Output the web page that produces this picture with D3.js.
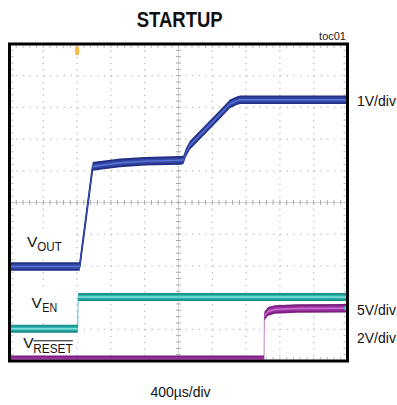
<!DOCTYPE html>
<html><head><meta charset="utf-8">
<script src="https://cdn.jsdelivr.net/npm/d3@7"></script>
<style>html,body{margin:0;padding:0;background:#fff;}svg{display:block;}</style>
</head><body>
<svg id="c" width="397" height="405"></svg>
<script>
// ---- data (time in µs, values in volts) ----
const timeDomain = [0, 4000];           // 10 div x 400 µs
const voutT = [0, 830, 985, 1071, 1308, 1600, 2018, 2057, 2089, 2136, 2491, 2609, 2689, 2730, 4000];
const voutV = [0, 0, 3.16, 3.19, 3.27, 3.32, 3.35, 3.36, 3.60, 3.83, 4.80, 5.13, 5.23, 5.26, 5.26];
const enT = [0, 808, 812, 4000];
const enV = [0, 0, 5.0, 5.0];
const resetT = [0, 3012, 3016, 3060, 3140, 3400, 4000];
const resetV = [0, 0, 2.75, 3.05, 3.17, 3.23, 3.25];
const channelNames = ["VOUT", "EN", "RESET"];
const voltsPerDiv = [1, 5, 2];
const groundDiv = [-2.02, -3.98, -4.96];
const scaleLabels = ["1V/div", "5V/div", "2V/div"];
const timeLabel = "400µs/div";
const titleText = "STARTUP";
const tocText = "toc01";

const svg = d3.select("#c");
const FONT = "'Liberation Sans', Arial, sans-serif";
const L = 9.5, R = 347.5, T = 44, B = 361;
const x = d3.scaleLinear().domain(timeDomain).range([L, R]);
const yDiv = d3.scaleLinear().domain([-5, 5]).range([B, T]);
const xDivs = d3.range(0, 11).map(i => timeDomain[0] + i * 400);
const yDivs = d3.range(-5, 6);

// ---- grid ----
const g = svg.append("g");
const dx = (x(400) - x(0)) / 5, dy = (yDiv(0) - yDiv(1)) / 5;
xDivs.slice(1, -1).forEach(t => {
  if (t === 2000) return;
  g.append("line").attr("x1", x(t)).attr("x2", x(t)).attr("y1", T).attr("y2", B)
    .attr("stroke", "#bdbdbd").attr("stroke-width", 1.3)
    .attr("stroke-dasharray", `1.3,${(dy - 1.3).toFixed(2)}`);
});
yDivs.slice(1, -1).forEach(d => {
  if (d === 0) return;
  g.append("line").attr("x1", L).attr("x2", R).attr("y1", yDiv(d)).attr("y2", yDiv(d))
    .attr("stroke", "#bdbdbd").attr("stroke-width", 1.3)
    .attr("stroke-dasharray", `1.3,${(dx - 1.3).toFixed(2)}`);
});
// center axes with minor ticks
const cx = x(2000), cy = yDiv(0);
g.append("line").attr("x1", cx).attr("x2", cx).attr("y1", T).attr("y2", B)
  .attr("stroke", "#d4d4d4").attr("stroke-width", 1);
g.append("line").attr("x1", L).attr("x2", R).attr("y1", cy).attr("y2", cy)
  .attr("stroke", "#d4d4d4").attr("stroke-width", 1);
d3.range(1, 50).forEach(i => {
  const xx = L + i * dx;
  g.append("line").attr("x1", xx).attr("x2", xx).attr("y1", cy - 2.5).attr("y2", cy + 2.5)
    .attr("stroke", "#aaa").attr("stroke-width", 1);
  g.append("line").attr("x1", xx).attr("x2", xx).attr("y1", T + 1.5).attr("y2", T + 4)
    .attr("stroke", "#bbb").attr("stroke-width", 1);
  g.append("line").attr("x1", xx).attr("x2", xx).attr("y1", B - 4).attr("y2", B - 1.5)
    .attr("stroke", "#bbb").attr("stroke-width", 1);
  const yy = T + i * dy;
  g.append("line").attr("x1", cx - 2.5).attr("x2", cx + 2.5).attr("y1", yy).attr("y2", yy)
    .attr("stroke", "#aaa").attr("stroke-width", 1);
  g.append("line").attr("x1", L + 1.5).attr("x2", L + 4).attr("y1", yy).attr("y2", yy)
    .attr("stroke", "#bbb").attr("stroke-width", 1);
  g.append("line").attr("x1", R - 4).attr("x2", R - 1.5).attr("y1", yy).attr("y2", yy)
    .attr("stroke", "#bbb").attr("stroke-width", 1);
});

// ---- label backgrounds ----
[[13, 229, 60, 27], [13, 290, 62, 28], [13, 334, 64, 20]].forEach(r => {
  svg.append("rect").attr("x", r[0]).attr("y", r[1]).attr("width", r[2]).attr("height", r[3]).attr("fill", "#fff");
});

// ---- traces ----
const chans = [
  {t: voutT, v: voutV, hw: 4.3, outer: "#22308a", mid: "#3347a6", core: "#5a72d0", edge: "#2a3a98", ew: 2},
  {t: enT, v: enV, hw: 4.0, outer: "#1a8e8a", mid: "#2fb3ae", core: "#7fe0da", edge: "#6cc9c4", ew: 1},
  {t: resetT, v: resetV, hw: 4.3, outer: "#7d1d80", mid: "#9a33a0", core: "#cc6fcf", edge: "#c48ac6", ew: 1}
];
svg.append("clipPath").attr("id", "pc").append("rect")
  .attr("x", L).attr("y", T).attr("width", R - L).attr("height", B - T);
const tr = svg.append("g").attr("clip-path", "url(#pc)");
chans.forEach((c, k) => {
  const pts = c.t.map((t, i) => [x(t), yDiv(groundDiv[k] + c.v[i] / voltsPerDiv[k])]);
  const band = h => d3.area().x(d => d[0]).y0(d => d[1] + h).y1(d => d[1] - h)(pts);
  tr.append("path").attr("d", d3.line()(pts)).attr("fill", "none").attr("stroke", c.edge).attr("stroke-width", c.ew);
  tr.append("path").attr("d", band(c.hw)).attr("fill", c.outer);
  tr.append("path").attr("d", band(c.hw * 0.55)).attr("fill", c.mid);
  tr.append("path").attr("d", band(c.hw * 0.18)).attr("fill", c.core);
});
// small channel marker at right edge
const my = yDiv(groundDiv[2] + resetV[resetV.length - 1] / voltsPerDiv[2]);
svg.append("path").attr("d", `M${R - 1.5},${my - 2.5} l-3,2.5 l3,2.5 z`).attr("fill", "#3cc6d8");

// trigger marker
const tx = x(800);
svg.append("line").attr("x1", tx).attr("x2", tx).attr("y1", T).attr("y2", T + 4).attr("stroke", "#f2a53a").attr("stroke-width", 1.2);
svg.append("rect").attr("x", tx - 1.8).attr("y", T + 3).attr("width", 3.6).attr("height", 8).attr("rx", 1.4).attr("fill", "#f5a623");
svg.append("rect").attr("x", tx - 0.6).attr("y", T + 4.5).attr("width", 1.2).attr("height", 5).attr("fill", "#fbd58a");

// frame
svg.append("rect").attr("x", L).attr("y", T).attr("width", R - L).attr("height", B - T)
  .attr("fill", "none").attr("stroke", "#000").attr("stroke-width", 3);

// ---- texts ----
svg.append("text").attr("x", 136.7).attr("y", 26.5).attr("font-family", FONT).attr("font-weight", "bold")
  .attr("font-size", 21.5).attr("textLength", 86).attr("lengthAdjust", "spacingAndGlyphs").attr("fill", "#111").text(titleText);
svg.append("text").attr("x", 346).attr("y", 39.5).attr("text-anchor", "end").attr("font-family", FONT)
  .attr("font-size", 11).attr("fill", "#222").text(tocText);
const rightY = [106, 315.3, 343.3];
scaleLabels.forEach((s, i) => {
  svg.append("text").attr("x", 357).attr("y", rightY[i]).attr("font-family", FONT)
    .attr("font-size", 14).attr("fill", "#111").text(s);
});
svg.append("text").attr("x", x(2000) + 2).attr("y", 396.5).attr("text-anchor", "middle").attr("font-family", FONT)
  .attr("font-size", 14).attr("fill", "#111").text(timeLabel);

function chLabel(x0, yb, sub, xs, ys, subLen) {
  const t = svg.append("text").attr("font-family", FONT).attr("fill", "#111");
  t.append("tspan").attr("x", x0).attr("y", yb).attr("font-size", 15.5).text("V");
  t.append("tspan").attr("x", xs).attr("y", ys).attr("font-size", 12.5)
    .attr("textLength", subLen).attr("lengthAdjust", "spacingAndGlyphs").text(sub);
}
chLabel(27, 246.7, "OUT", 37.3, 251, 24.4);
chLabel(31.5, 308.3, "EN", 42.3, 312.3, 14.8);
chLabel(23.3, 347.7, "RESET", 33.3, 352.7, 39.4);
svg.append("line").attr("x1", 33.3).attr("x2", 72.8).attr("y1", 340.8).attr("y2", 340.8).attr("stroke", "#111").attr("stroke-width", 1);
</script>
</body></html>
